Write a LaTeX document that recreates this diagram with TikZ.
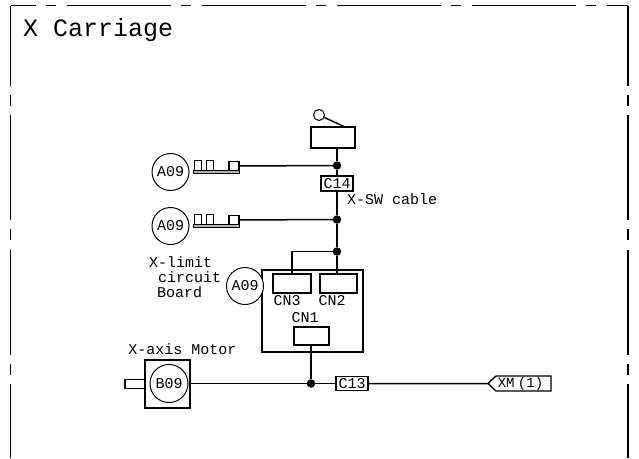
\documentclass[tikz,border=0pt]{standalone}
\usepackage{fontspec}
\setmonofont{Liberation Mono}
\usetikzlibrary{positioning, shapes.symbols}
\tikzset{
    frameline/.style={
        draw=black,
        line width=1.3pt
    },
    wire/.style={
        draw=black,
        line width=1.5pt
    },
    partbox/.style={
        rectangle,
        draw=black,
        line width=1.4pt,
        inner sep=0pt,
        outer sep=0pt,
        fill=white,
        font=\fontsize{15}{15}\selectfont\ttfamily
    },
    refcircle/.style={
        circle,
        draw=black,
        line width=1pt,
        minimum size=37pt,
        inner sep=0pt,
        outer sep=0pt,
        fill=white,
        font=\fontsize{15}{15}\selectfont\ttfamily
    },
    junction/.style={
        circle,
        fill=black,
        minimum size=8.5pt,
        inner sep=0pt,
        outer sep=0pt
    },
    bar/.style={
        rectangle,
        draw=black,
        line width=0.9pt,
        fill=gray!60,
        minimum width=46pt,
        minimum height=3pt,
        inner sep=0pt,
        outer sep=0pt
    },
    tab/.style={
        rectangle,
        draw=black,
        line width=1.1pt,
        minimum width=6.5pt,
        minimum height=10pt,
        inner sep=0pt,
        outer sep=0pt
    },
    pin/.style={
        rectangle,
        draw=black,
        line width=1.1pt,
        fill=white,
        minimum width=10pt,
        minimum height=9pt,
        inner sep=0pt,
        outer sep=0pt
    },
    label/.style={
        inner sep=0pt,
        outer sep=0pt,
        font=\fontsize{15}{15}\selectfont\ttfamily
    }
}
\begin{document}
\begin{tikzpicture}[x=1pt, y=-1pt]
\useasboundingbox (0,0) rectangle (639,458);

% Dashed outline, open at the bottom
\coordinate (tl) at (10.5,5.5);
\coordinate (tr) at (628,5.5);
\coordinate (bl) at (10.5,458);
\coordinate (br) at (628,458);
\draw[frameline, dash pattern=on 104pt off 10pt on 10.5pt off 10.5pt, dash phase=79pt] (tl) -- (tr);
\draw[frameline, dash pattern=on 105pt off 9pt on 11pt off 9.5pt, dash phase=25pt] (tl) -- (bl);
\draw[frameline, dash pattern=on 105pt off 9pt on 11pt off 9.5pt, dash phase=25pt] (tr) -- (br);

\node[label, anchor=west, font=\fontsize{25}{25}\selectfont\ttfamily] (title) at (23,30) {X Carriage};

% Limit switch and the line down to the board
\node[partbox, minimum width=44pt, minimum height=21pt] (limitsw) at (333,137.5) {};
\node[circle, draw=black, line width=1pt, minimum size=11pt, inner sep=0pt] (roller) at (319,115) {};
\coordinate (leverend) at (345,127);
\draw[wire] (roller) -- (leverend);

\node[junction] (j1) at (337,165.5) {};
\node[partbox, minimum width=32pt, minimum height=15pt] (c14) at (337,183.5) {C14};
\node[junction] (j2) at (337,219.5) {};
\node[junction] (j3) at (337,251.5) {};
\node[label, anchor=west] (swcable) at (347,199) {X-SW cable};

\draw[wire] (j1 |- limitsw.south) -- (j1);
\draw[wire] (j1) -- (c14);
\draw[wire] (c14) -- (j2);
\draw[wire] (j2) -- (j3);

% Upper A09 connector
\node[refcircle] (a1) at (170.5,172) {A09};
\node[bar, right=4pt of a1] (bar1) {};
\node[tab, above=0pt of bar1.north west, xshift=5pt] (tab1a) {};
\node[tab, right=5.5pt of tab1a] (tab1b) {};
\node[pin, above left=0pt and 0pt of bar1.north east] (pin1) {};
\draw[wire] (pin1) -- (j1);

% Lower A09 connector
\node[refcircle] (a2) at (170.5,226) {A09};
\node[bar, right=4pt of a2] (bar2) {};
\node[tab, above=0pt of bar2.north west, xshift=5pt] (tab2a) {};
\node[tab, right=5.5pt of tab2a] (tab2b) {};
\node[pin, above left=0pt and 0pt of bar2.north east] (pin2) {};
\draw[wire] (pin2) -- (j2);

% Limit circuit board
\node[partbox, fill=none, minimum width=101pt, minimum height=82pt] (board) at (312.5,311) {};
\node[partbox, minimum width=38pt, minimum height=19pt, below right=4pt and 11pt of board.north west] (cn3) {};
\node[partbox, minimum width=37pt, minimum height=19pt, below left=4pt and 6pt of board.north east] (cn2) {};
\node[partbox, minimum width=35pt, minimum height=18pt] (cn1) at (311.5,336) {};
\node[label, below=2pt of cn3, xshift=-5pt] (cn3text) {CN3};
\node[label, below=2pt of cn2, xshift=-6.5pt] (cn2text) {CN2};
\node[label, above=4pt of cn1, xshift=-6.5pt] (cn1text) {CN1};
\node[refcircle] (a3) at (245,286) {A09};

\draw[wire] (j3) -| (cn3.north);
\draw[wire] (j3) -- (j3 |- cn2.north);

\node[label, anchor=west] (limit1) at (149,262) {X-limit};
\node[label, anchor=west] (limit2) at (158,277) {circuit};
\node[label, anchor=west] (limit3) at (157,292) {Board};

% Motor and the output line
\node[partbox, minimum width=45pt, minimum height=48pt] (motor) at (167.5,384) {};
\node[partbox, minimum width=20pt, minimum height=9pt, left=0pt of motor] (shaft) {};
\node[refcircle, minimum size=38pt] (b09) at (169,383.5) {B09};
\node[label, above=5pt of motor, xshift=15pt] (motortext) {X-axis Motor};

\node[junction] (j4) at (311,383.5) {};
\node[partbox, minimum width=32pt, minimum height=14pt] (c13) at (352,383.5) {C13};
\node[signal, signal to=west, signal from=nowhere, signal pointer angle=86, draw=black, line width=1.4pt, minimum width=63pt, minimum height=15pt, inner sep=0pt, outer sep=0pt, font=\fontsize{14}{14}\selectfont\ttfamily] (xm) at (523.5,383.5) {\hspace{-6pt}XM \kern-5pt(1)};

\draw[wire] (b09 -| motor.east) -- (j4);
\draw[wire] (j4) -- (c13);
\draw[wire] (c13) -- (xm);
\draw[wire] (cn1.south -| j4) -- (j4);

\end{tikzpicture}
\end{document}
